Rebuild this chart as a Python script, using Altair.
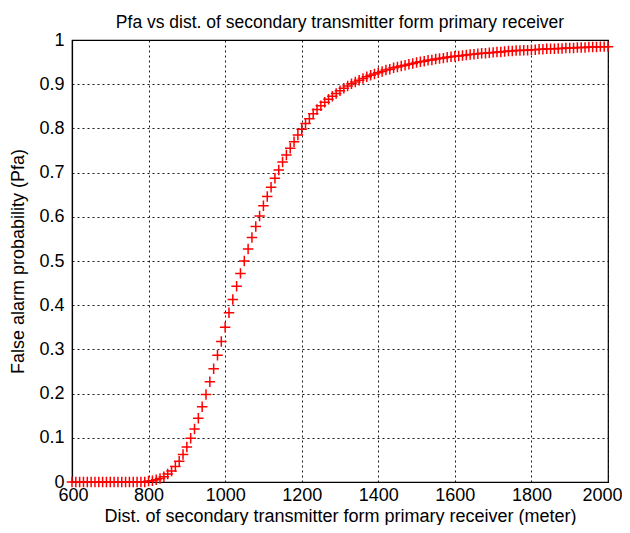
import altair as alt
import pandas as pd

# distances (m), every 10 m from 600 to 2000
dist = list(range(600, 2001, 10))

pfa_tail = [0.0] * 20  # 600..790
pfa_rise = [0.002, 0.003, 0.005, 0.008, 0.012, 0.018, 0.025, 0.035, 0.047, 0.062,
            0.079, 0.099, 0.12, 0.144, 0.17, 0.198, 0.227, 0.256, 0.287, 0.318]  # 800..990
pfa_mid = [0.35, 0.383, 0.413, 0.443, 0.472, 0.50, 0.527, 0.553, 0.578, 0.602,
           0.625, 0.646, 0.667, 0.687, 0.706, 0.724, 0.740, 0.755, 0.770, 0.785]  # 1000..1190
pfa_knee = [0.798, 0.811, 0.822, 0.833, 0.843, 0.851, 0.859, 0.866, 0.873, 0.879,
            0.885, 0.891, 0.896, 0.901, 0.905, 0.909, 0.913, 0.917, 0.920, 0.923]  # 1200..1390
pfa_flat1 = [0.926, 0.929, 0.932, 0.934, 0.937, 0.939, 0.941, 0.943, 0.945, 0.947,
             0.949, 0.951, 0.952, 0.954, 0.955, 0.957, 0.958, 0.959, 0.961, 0.962]  # 1400..1590
pfa_flat2 = [0.963, 0.964, 0.965, 0.966, 0.967, 0.968, 0.969, 0.970, 0.970, 0.971,
             0.972, 0.973, 0.973, 0.974, 0.975, 0.975, 0.976, 0.976, 0.977, 0.977]  # 1600..1790
pfa_flat3 = [0.978, 0.978, 0.979, 0.979, 0.980, 0.980, 0.980, 0.981, 0.981, 0.982,
             0.982, 0.982, 0.983, 0.983, 0.983, 0.984, 0.984, 0.984, 0.985, 0.985,
             0.985]  # 1800..2000
pfa = pfa_tail + pfa_rise + pfa_mid + pfa_knee + pfa_flat1 + pfa_flat2 + pfa_flat3

x_ticks = [600, 800, 1000, 1200, 1400, 1600, 1800, 2000]
y_ticks = [0, 0.1, 0.2, 0.3, 0.4, 0.5, 0.6, 0.7, 0.8, 0.9, 1]

title = "Pfa vs dist. of secondary transmitter form primary receiver"
x_title = "Dist. of secondary transmitter form primary receiver (meter)"
y_title = "False alarm probability (Pfa)"

df = pd.DataFrame({"dist": dist, "pfa": pfa})

FONT = "Liberation Sans"

xscale = alt.Scale(domain=[600, 2000], nice=False, zero=False)
yscale = alt.Scale(domain=[0, 1], nice=False)

common_axis = dict(
    grid=True, gridDash=[2, 3], gridColor="#000000", gridOpacity=0.9,
    tickSize=0, labelFont=FONT, titleFont=FONT,
    labelFontSize=18, titleFontSize=18, titleFontWeight="normal",
    labelColor="#000000", titleColor="#000000", domainColor="#000000",
    domainWidth=1.2,
)

points = alt.Chart(df).mark_point(
    shape="M-1,0H1M0,-1V1",
    filled=False,
    color="#ff0000",
    size=110,
    strokeWidth=1.5,
    opacity=1,
    clip=False,
).encode(
    x=alt.X("dist:Q", scale=xscale,
            axis=alt.Axis(values=x_ticks, title=x_title, format="d",
                          labelPadding=4, labelFlush=True, labelFlushOffset=14,
                          titleBaseline="alphabetic", titleY=39.5,
                          **common_axis)),
    y=alt.Y("pfa:Q", scale=yscale,
            axis=alt.Axis(values=y_ticks, title=y_title, format="~g",
                          labelPadding=8, titlePadding=11, labelFlush=False,
                          **common_axis)),
)

chart = points.properties(
    width=536,
    height=442,
    background="#ffffff",
    title=alt.TitleParams(title, fontSize=17.5, font=FONT, fontWeight="normal",
                          color="#000000", offset=0),
    autosize=alt.AutoSizeParams(type="none"),
    padding={"left": 64, "top": 32, "right": 14, "bottom": 43},
).configure_view(
    stroke="#000000", strokeWidth=1.2
)

chart.save("out.html", embed_options={"renderer": "svg", "actions": False})
